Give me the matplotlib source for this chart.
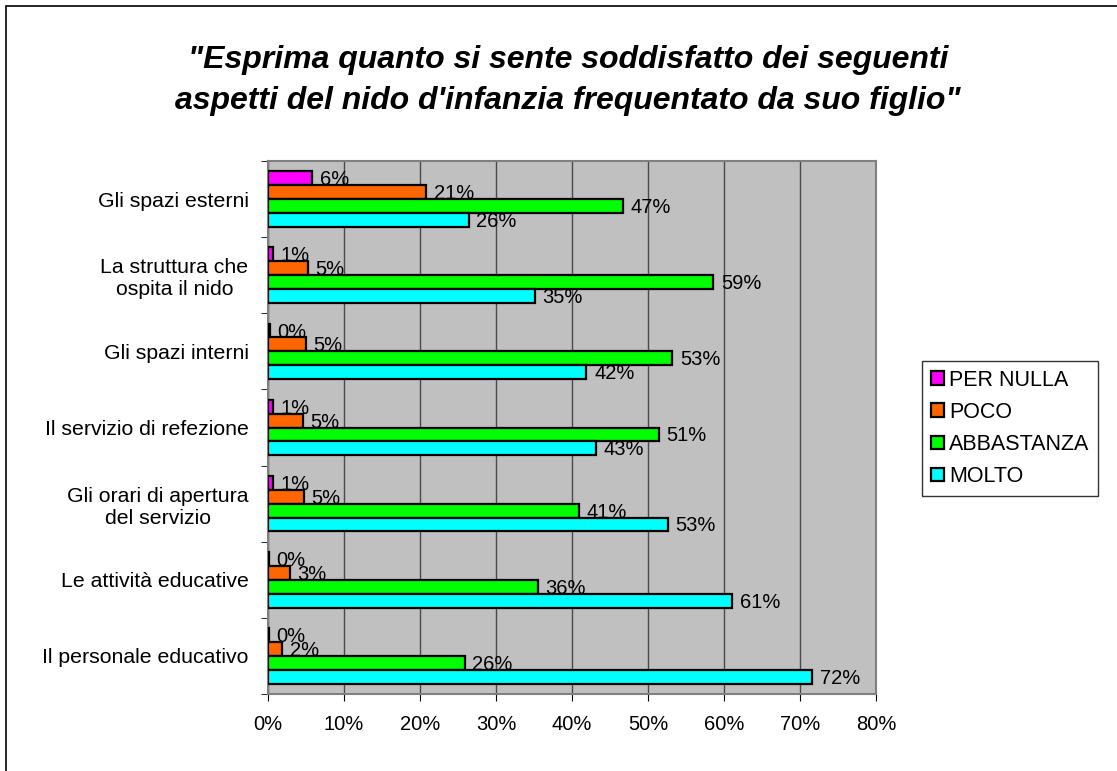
import matplotlib; matplotlib.use("Agg")
import matplotlib.pyplot as plt
from matplotlib.patches import Patch, Rectangle
import numpy as np

plt.rcParams['font.family'] = ['Liberation Sans', 'DejaVu Sans']

categories = ["Gli spazi esterni", "La struttura che\nospita il nido", "Gli spazi interni",
              "Il servizio di refezione", "Gli orari di apertura\ndel servizio",
              "Le attività educative", "Il personale educativo"]
series = ["PER NULLA", "POCO", "ABBASTANZA", "MOLTO"]
per_nulla = [5.8, 0.6, 0.2, 0.6, 0.6, 0.1, 0.1]
poco = [20.8, 5.2, 5.0, 4.6, 4.7, 2.9, 1.9]
abbastanza = [46.7, 58.6, 53.2, 51.4, 40.9, 35.5, 25.9]
molto = [26.4, 35.1, 41.9, 43.2, 52.6, 61.1, 71.6]
colors = ["#ff00ff", "#ff6600", "#00ff00", "#00ffff"]
xticks = [0, 10, 20, 30, 40, 50, 60, 70, 80]

W, H = 1117, 771
fig = plt.figure(figsize=(W/100, H/100), dpi=100)
# outer chart border (only left/top visible in the original)
fig.patches.append(Rectangle((6/W, -0.1), 1.2, 1.1 - 6/H, transform=fig.transFigure,
                             fill=False, edgecolor="black", lw=1.2))

ax = fig.add_axes([268/W, 1-694/H, (876-268)/W, (694-161)/H])
ax.set_facecolor("#c0c0c0")
for s in ax.spines.values():
    s.set_color("#808080"); s.set_linewidth(1.5)

vals = [per_nulla, poco, abbastanza, molto]
h = 0.182
y = np.arange(len(categories))
for k, (v, c) in enumerate(zip(vals, colors)):
    yy = y + (k - 1.5) * h
    ax.barh(yy, v, height=h, color=c, edgecolor="black", linewidth=1.6, zorder=3, label=series[k])
    for yi, vi in zip(yy, v):
        ax.text(vi + 1.0, yi + 0.02, f"{round(vi):.0f}%", va="center", ha="left", fontsize=14.5, zorder=4)

ax.set_xlim(0, 80)
ax.set_ylim(len(categories) - 0.5, -0.5)
ax.set_xticks(xticks)
ax.set_xticklabels([f"{t}%" for t in xticks], fontsize=14.5)
ax.xaxis.grid(True, color="#4a4a4a", lw=1.0, zorder=1)
ax.tick_params(axis="x", direction="out", length=5, pad=10, color="black")
ax.set_yticks(y)
ax.set_yticklabels(categories, fontsize=15.3, multialignment="center")
ax.set_yticks(np.arange(-0.5, len(categories), 1), minor=True)
ax.tick_params(axis="y", which="major", length=0, pad=14)
ax.tick_params(axis="y", which="minor", direction="out", length=5, color="black")

title_kw = dict(ha="center", va="baseline", fontsize=23, fontweight="bold", fontstyle="italic")
fig.text(568/W, 1-68/H, "\"Esprima quanto si sente soddisfatto dei seguenti", **title_kw)
fig.text(568/W, 1-109/H, "aspetti del nido d'infanzia frequentato da suo figlio\"", **title_kw)

handles = [Patch(facecolor=c, edgecolor="black", lw=1.6) for c in colors]
leg = fig.legend(handles, series, loc="upper left", bbox_to_anchor=(922/W, 1-361/H),
                 fontsize=15.5, frameon=True, fancybox=False, shadow=False,
                 handlelength=0.6, handleheight=0.6, handletextpad=0.25, labelspacing=0.52,
                 borderpad=0.4, borderaxespad=0)
leg.get_frame().set_edgecolor("black")
leg.get_frame().set_linewidth(1.0)

fig.savefig("out.png", dpi=100)
